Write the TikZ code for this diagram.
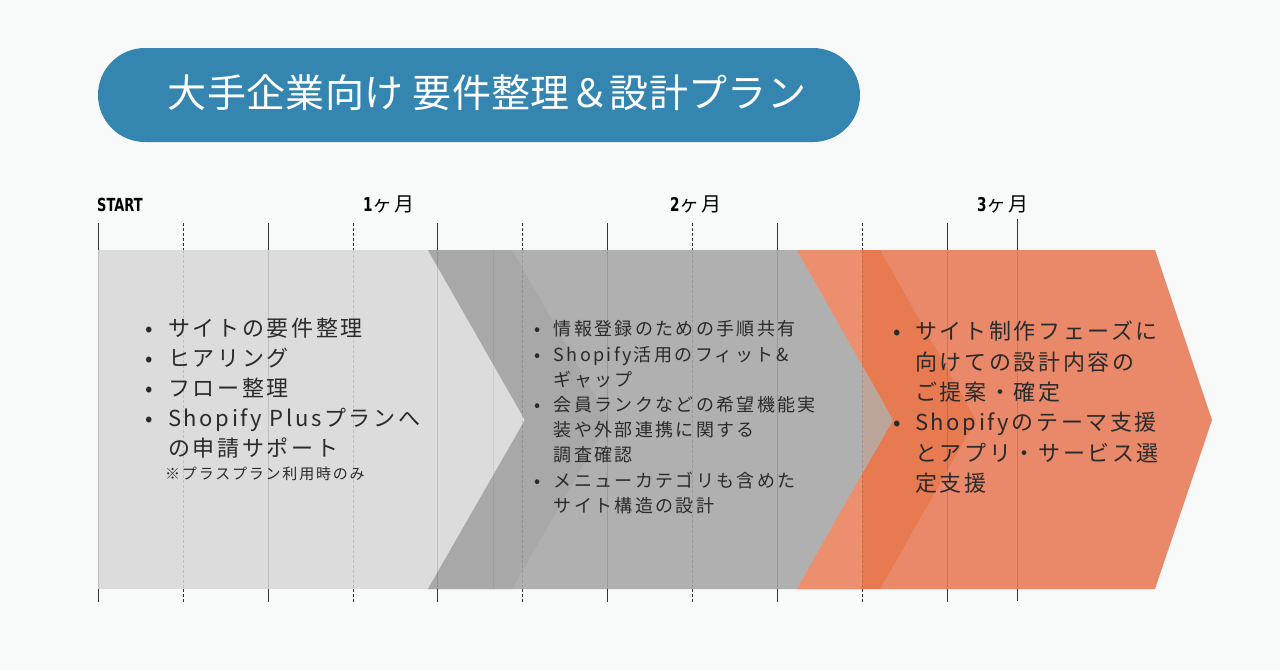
\documentclass[tikz,border=0pt]{standalone}
\usepackage{fontspec}
\setmainfont{Noto Sans CJK JP}
\newfontfamily\jp{Noto Sans CJK JP}[LetterSpace=12]
\newfontfamily\jpmid{Noto Sans CJK JP}[LetterSpace=13]
\newfontfamily\jptitle{Noto Sans CJK JP}[LetterSpace=1]
\newfontfamily\cond{DejaVu Sans}[FakeStretch=0.72]
\definecolor{bgc}{HTML}{F8F9F9}
\definecolor{pill}{HTML}{3585B1}
\definecolor{lightg}{HTML}{DCDCDC}
\definecolor{midg}{HTML}{B0B0B0}
\definecolor{darkg}{HTML}{A8A8A8}
\definecolor{orng}{HTML}{E9896A}
\definecolor{orngl}{HTML}{EC8F6F}
\definecolor{orngd}{HTML}{E87A52}
\definecolor{tipmix}{HTML}{BCA69C}
\definecolor{txt}{HTML}{2A2A2A}
\definecolor{tick}{HTML}{333333}
\newcommand\bul[1]{\makebox[#1][l]{•}}
\tikzset{
  ticksolid/.style={draw=tick, line width=0.9pt},
  tickdash/.style={draw=tick, line width=0.9pt, dash pattern=on 3pt off 2pt},
  tickin/.style={draw=black, draw opacity=0.13, line width=0.9pt},
  tickindash/.style={draw=black, draw opacity=0.13, line width=0.9pt, dash pattern=on 3pt off 2pt},
  bodytext/.style={anchor=north west, align=left, inner sep=0pt, text=txt},
  monthlbl/.style={anchor=center, inner sep=0pt, text=black}
}
\begin{document}
\begin{tikzpicture}[x=1pt,y=-1pt]
\useasboundingbox (0,0) rectangle (1280,670);
\fill[bgc] (0,0) rectangle (1280,670);
% title pill
\fill[pill, rounded corners=47pt] (98,48) rectangle (860,142);
\node[text=white, inner sep=0pt, font=\fontsize{39}{42}\selectfont\jptitle] (title) at (487,93) {大手企業向け 要件整理＆設計プラン};

% shapes
\fill[lightg] (98,250) rectangle (530,589);
\fill[midg] (428,250) -- (797,250) -- (893,420) -- (797,589) -- (428,589) -- (525,420) -- cycle;
\fill[darkg] (428,250) -- (512,250) -- (609,420) -- (512,589) -- (428,589) -- (525,420) -- cycle;
\draw[black, opacity=0.06, line width=0.8pt] (493,250) -- (493,589);
\fill[orng] (797,250) -- (1155,250) -- (1212,420) -- (1155,589) -- (797,589) -- (893,420) -- cycle;
\fill[orngl] (797,250) -- (862,250) -- (862,365) -- cycle;
\fill[orngl] (797,589) -- (862,589) -- (862,474) -- cycle;
\fill[orngd] (862,250) -- (880,250) -- (976,420) -- (880,589) -- (862,589) -- (862,474) -- (893,420) -- (862,365) -- cycle;
\fill[tipmix] (862,365) -- (893,420) -- (862,474) -- cycle;

% tick lines
\foreach \x in {98,268,437,607,777,947}{
  \draw[ticksolid] (\x,223) -- (\x,250);
  \draw[tickin] (\x,250) -- (\x,589);
  \draw[ticksolid] (\x,589) -- (\x,602);
}
\foreach \x in {183,353,522,692,862}{
  \draw[tickdash] (\x,223) -- (\x,250);
  \draw[tickindash] (\x,250) -- (\x,589);
  \draw[tickdash] (\x,589) -- (\x,602);
}
\draw[ticksolid] (1017,219) -- (1017,250);
\draw[tickin] (1017,250) -- (1017,589);
\draw[ticksolid] (1017,589) -- (1017,601);

% labels
\node[monthlbl, anchor=west, font=\fontsize{18}{20}\selectfont\cond\bfseries] (start) at (97,205) {START};
\node[monthlbl] (m1) at (389,204) {{\fontsize{19}{20}\selectfont\cond\bfseries 1}{\fontsize{20}{20}\selectfont\jp ヶ月}};
\node[monthlbl] (m2) at (696,204) {{\fontsize{19}{20}\selectfont\cond\bfseries 2}{\fontsize{20}{20}\selectfont\jp ヶ月}};
\node[monthlbl] (m3) at (1003,204) {{\fontsize{19}{20}\selectfont\cond\bfseries 3}{\fontsize{20}{20}\selectfont\jp ヶ月}};

% texts
\node[bodytext, font=\fontsize{22}{30}\selectfont\jp] (t1) at (145,318) {%
\bul{23pt}サイトの要件整理\\
\bul{23pt}ヒアリング\\
\bul{23pt}フロー整理\\
\bul{23pt}Shopify Plusプランへ\\
\hspace*{23pt}の申請サポート};
\node[anchor=west, inner sep=0pt, text=txt, font=\fontsize{15}{18}\selectfont\jp] (note) at (165,474) {※プラスプラン利用時のみ};

\node[bodytext, font=\fontsize{18}{25.2}\selectfont\jpmid] (t2) at (534,320.5) {%
\bul{19.5pt}情報登録のための手順共有\\
\bul{19.5pt}Shopify活用のフィット\&\\
\hspace*{19.5pt}ギャップ\\
\bul{19.5pt}会員ランクなどの希望機能実\\
\hspace*{19.5pt}装や外部連携に関する\\
\hspace*{19.5pt}調査確認\\
\bul{19.5pt}メニューカテゴリも含めた\\
\hspace*{19.5pt}サイト構造の設計};

\node[bodytext, font=\fontsize{22}{30.3}\selectfont\jp] (t3) at (893,321) {%
\bul{22pt}サイト制作フェーズに\\
\hspace*{22pt}向けての設計内容の\\
\hspace*{22pt}ご提案・確定\\
\bul{22pt}Shopifyのテーマ支援\\
\hspace*{22pt}とアプリ・サービス選\\
\hspace*{22pt}定支援};
\end{tikzpicture}
\end{document}
